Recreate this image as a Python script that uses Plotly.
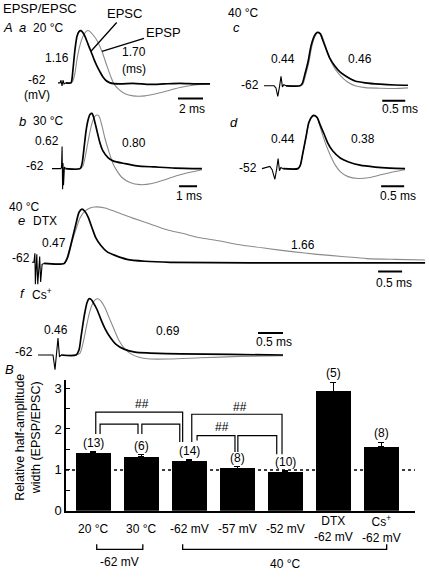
import plotly.graph_objects as go

W, H = 429, 578
FONT = "Liberation Sans, Arial, sans-serif"
BLACK = "#000000"
GRAY = "#8a8a8a"

# ---------------- Trace data (time in ms, amplitude relative to EPSC peak) ----------------
# Panel a: 20 °C, -62 mV
a_stim_t = [0, 0.16, 0.24, 0.32, 0.40, 0.48, 0.64]
a_stim_v = [0, 0, 0.05, -0.06, 0.05, -0.02, 0]
a_epsc_t = [0.64, 1.04, 1.12, 1.20, 1.36, 1.52, 1.68, 1.84, 2.00, 2.16, 2.40, 2.64, 2.88, 3.12,
            3.36, 3.60, 3.84, 4.16, 4.96, 6.0, 7.36, 8.5, 9.76, 11.0, 12.16]
a_epsc_v = [0, 0, 0.075, 0.26, 0.64, 0.89, 0.98, 1.0, 0.96, 0.89, 0.74, 0.60, 0.45, 0.32,
            0.21, 0.11, 0.045, 0, -0.02, -0.01, -0.03, -0.02, -0.01, -0.02, -0.02]
a_epsp_t = [0.64, 1.04, 1.20, 1.36, 1.52, 1.76, 2.00, 2.24, 2.40, 2.56, 2.80, 3.12, 3.52, 3.92,
            4.24, 4.48, 4.80, 5.36, 6.00, 6.96, 8.16, 9.76, 10.96, 12.16]
a_epsp_v = [0, 0, 0.04, 0.19, 0.45, 0.72, 0.89, 0.98, 1.0, 0.98, 0.92, 0.81, 0.60, 0.32,
            0.11, -0.02, -0.11, -0.21, -0.25, -0.25, -0.19, -0.09, -0.04, -0.02]

# Panel b: 30 °C, -62 mV
b_stim_t = [0, 0.47, 0.53, 0.56, 0.59, 0.61, 0.64, 0.69, 0.75]
b_stim_v = [0, 0, 0.02, 0.40, -0.375, 0.10, -0.30, 0.03, 0]
b_epsc_t = [0.75, 1.56, 1.67, 1.78, 1.89, 2.00, 2.11, 2.22, 2.33, 2.50, 2.67, 2.83, 3.11, 3.39,
            4.06, 4.72, 5.72, 6.83, 8.33]
b_epsc_v = [0, 0, 0.09, 0.375, 0.68, 0.875, 0.98, 1.0, 0.91, 0.68, 0.46, 0.32, 0.20, 0.14,
            0.09, 0.05, 0.03, 0.01, 0]
b_epsp_t = [0.75, 1.56, 1.72, 1.89, 2.06, 2.22, 2.39, 2.50, 2.61, 2.78, 2.94, 3.17, 3.39, 3.61,
            3.89, 4.33, 4.89, 5.56, 6.28, 7.11, 8.33]
b_epsp_v = [0, 0, 0.05, 0.29, 0.59, 0.82, 0.95, 0.97, 0.95, 0.77, 0.55, 0.30, 0.09, -0.04,
            -0.16, -0.25, -0.29, -0.27, -0.20, -0.11, -0.02]

# Panel c: 40 °C, -62 mV
c_stim_t = [0, 0.22, 0.26, 0.30, 0.34, 0.37, 0.40, 0.43, 0.48]
c_stim_v = [0, 0, -0.04, -0.20, 0, 0.18, -0.02, 0.02, 0]
c_epsc_t = [0.48, 0.78, 0.83, 0.89, 0.96, 1.02, 1.09, 1.15, 1.22, 1.28, 1.35, 1.43, 1.54, 1.65,
            1.80, 1.98, 2.20, 2.52, 2.85, 3.13]
c_epsc_v = [0, 0, 0.04, 0.22, 0.46, 0.74, 0.93, 1.0, 0.98, 0.85, 0.69, 0.52, 0.37, 0.26,
            0.17, 0.09, 0.055, 0.03, 0.015, 0.01]
c_epsp_t = [0.48, 0.80, 0.85, 0.91, 0.98, 1.04, 1.11, 1.17, 1.24, 1.30, 1.37, 1.45, 1.55, 1.66,
            1.80, 1.98, 2.20, 2.52, 2.85, 3.13]
c_epsp_v = [0, 0, 0.04, 0.22, 0.46, 0.74, 0.93, 1.0, 0.97, 0.84, 0.66, 0.47, 0.31, 0.19,
            0.08, 0.0, -0.035, -0.045, -0.05, -0.04]

# Panel d: 40 °C, -52 mV
d_stim_t = [0, 0.17, 0.22, 0.28, 0.32, 0.35, 0.38, 0.41, 0.46]
d_stim_v = [0, 0.04, -0.02, -0.20, 0, 0.19, -0.04, 0.02, 0]
d_epsc_t = [0.46, 0.78, 0.83, 0.89, 0.96, 1.02, 1.09, 1.13, 1.20, 1.26, 1.35, 1.43, 1.54, 1.70,
            1.87, 2.13, 2.46, 2.78, 3.11]
d_epsc_v = [0, 0, 0.055, 0.30, 0.61, 0.87, 0.98, 1.0, 0.96, 0.83, 0.65, 0.48, 0.33, 0.20,
            0.13, 0.065, 0.03, 0.01, 0]
d_epsp_t = [0.46, 0.78, 0.83, 0.89, 0.96, 1.02, 1.09, 1.13, 1.20, 1.26, 1.30, 1.39, 1.48, 1.59,
            1.70, 1.87, 2.09, 2.35, 2.61, 2.89, 3.11]
d_epsp_v = [0, 0, 0.055, 0.30, 0.61, 0.87, 0.98, 1.0, 0.95, 0.80, 0.68, 0.45, 0.26, 0.07,
            -0.055, -0.15, -0.185, -0.165, -0.11, -0.055, -0.02]

# Panel e: 40 °C, DTX
e_stim_t = [0, 0.04, 0.06, 0.07, 0.10, 0.12, 0.16, 0.18, 0.21, 0.25]
e_stim_v = [0, 0, 0.17, -0.41, 0.15, -0.41, 0.11, -0.37, -0.04, -0.02]
e_epsc_t = [0.25, 0.67, 0.73, 0.79, 0.85, 0.92, 0.98, 1.04, 1.10, 1.17, 1.25, 1.33, 1.44, 1.56,
            1.73, 1.98, 2.35, 2.88, 4.54, 6.21, 8.19]
e_epsc_v = [-0.02, -0.02, 0.07, 0.26, 0.48, 0.74, 0.94, 1.0, 0.96, 0.85, 0.65, 0.46, 0.31, 0.20,
            0.13, 0.055, 0.02, 0, -0.01, -0.01, -0.01]
e_epsp_t = [0.25, 0.67, 0.75, 0.83, 0.92, 1.00, 1.10, 1.21, 1.31, 1.52, 1.77, 2.10, 2.46, 2.81,
            3.15, 3.50, 3.85, 4.33, 4.90, 5.42, 5.94, 6.46, 6.98, 7.56, 8.19]
e_epsp_v = [-0.02, -0.02, 0.09, 0.37, 0.63, 0.83, 0.96, 1.02, 1.04, 1.02, 0.94, 0.83, 0.72, 0.61,
            0.54, 0.46, 0.41, 0.33, 0.26, 0.20, 0.15, 0.11, 0.07, 0.055, 0.045]

# Panel f: 40 °C, Cs+
f_stim_t = [0, 0.30, 0.34, 0.37, 0.40, 0.43, 0.46]
f_stim_v = [0, 0, -0.26, 0, 0.30, -0.035, 0]
f_epsc_t = [0.46, 0.76, 0.82, 0.86, 0.90, 0.94, 0.98, 1.02, 1.06, 1.12, 1.18, 1.26, 1.34, 1.44,
            1.56, 1.72, 1.94, 2.24, 2.84, 3.84, 4.90]
f_epsc_v = [0, 0, 0.09, 0.32, 0.56, 0.77, 0.93, 1.0, 0.99, 0.91, 0.81, 0.63, 0.47, 0.32,
            0.19, 0.105, 0.05, 0.035, 0.02, 0.01, 0]
f_epsp_t = [0.46, 0.76, 0.84, 0.90, 0.96, 1.02, 1.08, 1.14, 1.20, 1.26, 1.34, 1.42, 1.52, 1.62,
            1.74, 1.86, 2.00, 2.24, 2.64, 3.24, 4.04, 4.90]
f_epsp_v = [0, 0, 0.035, 0.21, 0.47, 0.72, 0.89, 0.98, 1.0, 0.96, 0.84, 0.67, 0.46, 0.26,
            0.105, 0.02, -0.035, -0.07, -0.07, -0.05, -0.025, -0.01]

# Half-amplitude widths printed beside traces (EPSC, EPSP)
halfwidth_labels = {"a": ("1.16", "1.70"), "b": ("0.62", "0.80"), "c": ("0.44", "0.46"),
                    "d": ("0.44", "0.38"), "e": ("0.47", "1.66"), "f": ("0.46", "0.69")}

# ---------------- Bar chart data ----------------
bar_labels = ["20 °C", "30 °C", "-62 mV", "-57 mV", "-52 mV", "DTX<br>-62 mV", "Cs<sup>+</sup><br>-62 mV"]
bar_values = [1.41, 1.32, 1.22, 1.04, 0.95, 2.92, 1.57]
bar_errors = [0.03, 0.05, 0.03, 0.04, 0.03, 0.22, 0.10]
bar_n = [13, 6, 14, 8, 10, 5, 8]
y_ticks = [0, 1, 2, 3]
y_minor_ticks = [0.5, 1.5, 2.5]

# ---------------- Layout geometry ----------------
def px(x):
    return x / W


def py(y):
    return 1 - y / H


# panel: (stim, epsc, epsp, x_origin_px, px_per_ms, baseline_px, px_per_unit, t_range, v_range, scalebar)
panels = {
    "a": ((a_stim_t, a_stim_v), (a_epsc_t, a_epsc_v), (a_epsp_t, a_epsp_v), 58, 12.5, 84, 53, (-0.5, 12.5), (-0.5, 1.2), (9.6, 2.0, -0.30)),
    "b": ((b_stim_t, b_stim_v), (b_epsc_t, b_epsc_v), (b_epsp_t, b_epsp_v), 52, 18, 171, 56, (-0.5, 8.6), (-0.7, 1.2), (7.06, 1.0, -0.32)),
    "c": ((c_stim_t, c_stim_v), (c_epsc_t, c_epsc_v), (c_epsp_t, c_epsp_v), 264, 46, 87, 54, (-0.2, 3.3), (-0.5, 1.2), (2.57, 0.5, -0.28)),
    "d": ((d_stim_t, d_stim_v), (d_epsc_t, d_epsc_v), (d_epsp_t, d_epsp_v), 262, 46, 171, 54, (-0.2, 3.3), (-0.5, 1.2), (2.59, 0.5, -0.33)),
    "e": ((e_stim_t, e_stim_v), (e_epsc_t, e_epsc_v), (e_epsp_t, e_epsp_v), 32, 48, 266, 54, (-0.2, 8.2), (-0.6, 1.2), (7.21, 0.5, -0.17)),
    "f": ((f_stim_t, f_stim_v), (f_epsc_t, f_epsc_v), (f_epsp_t, f_epsp_v), 38, 50, 360, 57, (-0.2, 5.0), (-0.6, 1.2), (4.4, 0.5, 0.39)),
}

fig = go.Figure()
layout_axes = {}

for i, (name, p) in enumerate(panels.items(), start=1):
    stim, epsc, epsp, xo, k, yb, hh, tr, vr, sb = p
    xa = "x" if i == 1 else f"x{i}"
    ya = "y" if i == 1 else f"y{i}"
    xkey = "xaxis" if i == 1 else f"xaxis{i}"
    ykey = "yaxis" if i == 1 else f"yaxis{i}"
    layout_axes[xkey] = dict(domain=[px(xo + k * tr[0]), px(xo + k * tr[1])], range=list(tr),
                             visible=False, anchor=ya, fixedrange=True)
    layout_axes[ykey] = dict(domain=[py(yb - hh * vr[0]), py(yb - hh * vr[1])], range=list(vr),
                             visible=False, anchor=xa, fixedrange=True)
    # EPSP (gray) first, then EPSC (black) on top
    fig.add_trace(go.Scatter(x=epsp[0], y=epsp[1], mode="lines", xaxis=xa, yaxis=ya,
                             line=dict(color=GRAY, width=1.1, shape="spline", smoothing=0.7),
                             showlegend=False, hoverinfo="skip"))
    fig.add_trace(go.Scatter(x=stim[0], y=stim[1], mode="lines", xaxis=xa, yaxis=ya,
                             line=dict(color=BLACK, width=1.1), showlegend=False, hoverinfo="skip"))
    fig.add_trace(go.Scatter(x=epsc[0], y=epsc[1], mode="lines", xaxis=xa, yaxis=ya,
                             line=dict(color=BLACK, width=1.7, shape="spline", smoothing=0.7),
                             showlegend=False, hoverinfo="skip"))
    # scale bar
    fig.add_trace(go.Scatter(x=[sb[0], sb[0] + sb[1]], y=[sb[2], sb[2]], mode="lines",
                             xaxis=xa, yaxis=ya, line=dict(color=BLACK, width=2),
                             showlegend=False, hoverinfo="skip"))

# ---------------- Bar chart ----------------
bx = list(range(len(bar_values)))
fig.add_trace(go.Bar(x=bx, y=bar_values, xaxis="x7", yaxis="y7", width=0.73,
                     marker=dict(color=BLACK, line=dict(width=0)),
                     error_y=dict(type="data", array=bar_errors, arrayminus=[0] * len(bar_errors),
                                  symmetric=False, color=BLACK, thickness=1.3, width=3),
                     showlegend=False, hoverinfo="skip"))

bar_left, bar_right, bar_zero, unit_px = 66, 415, 518, 41.5
layout_axes["xaxis7"] = dict(domain=[px(bar_left), px(bar_right)], range=[-0.57, 6.70], anchor="y7",
                             showline=True, linecolor=BLACK, linewidth=1.5, ticks="",
                             showticklabels=False, showgrid=False, zeroline=False, fixedrange=True)
layout_axes["yaxis7"] = dict(domain=[py(bar_zero), py(bar_zero - 3.2 * unit_px)], range=[0, 3.2],
                             anchor="x7", showline=True, linecolor=BLACK, linewidth=1.5,
                             tickvals=y_ticks, ticks="inside", ticklen=4,
                             tickwidth=1.3, tickcolor=BLACK, showgrid=False, zeroline=False,
                             minor=dict(tickvals=y_minor_ticks, ticks="inside", ticklen=4,
                                        tickwidth=1.3, tickcolor=BLACK, showgrid=False),
                             tickfont=dict(family=FONT, size=13, color=BLACK), fixedrange=True)

annotations = []
shapes = []


def txt(x, y, s, size=12, italic=False, xanchor="center", **kw):
    d = dict(x=px(x), y=py(y), xref="paper", yref="paper", text=s, showarrow=False,
             xanchor=xanchor, yanchor="middle",
             font=dict(family=FONT, size=size, color=BLACK, style="italic" if italic else "normal"))
    d.update(kw)
    annotations.append(d)


# Panel texts
txt(40, 9, "EPSP/EPSC", 13)
txt(8, 28, "A", 13, italic=True)
txt(22, 28, "a", 13, italic=True)
txt(48, 28, "20 °C", 12)
txt(57, 59, halfwidth_labels["a"][0])
txt(134, 53, halfwidth_labels["a"][1])
txt(134, 70, "(ms)")
txt(37, 81, "-62")
txt(37, 96, "(mV)")
txt(192, 111, "2 ms")

txt(22, 123, "b", 13, italic=True)
txt(48, 123, "30 °C", 12)
txt(47, 143, halfwidth_labels["b"][0])
txt(134, 145, halfwidth_labels["b"][1])
txt(35, 168, "-62")
txt(189, 199, "1 ms")

txt(243, 13, "40 °C")
txt(237, 28, "c", 13, italic=True)
txt(283, 60, halfwidth_labels["c"][0])
txt(360, 60, halfwidth_labels["c"][1])
txt(250, 86, "-62")
txt(400, 111, "0.5 ms")

txt(234, 124, "d", 13, italic=True)
txt(283, 141, halfwidth_labels["d"][0])
txt(363, 141, halfwidth_labels["d"][1])
txt(248, 170, "-52")
txt(398, 199, "0.5 ms")

txt(24, 210, "40 °C")
txt(21, 224, "e", 13, italic=True)
txt(45, 224, "DTX")
txt(54, 246, halfwidth_labels["e"][0])
txt(303, 248, halfwidth_labels["e"][1])
txt(21, 262, "-62")
txt(394, 287, "0.5 ms")

txt(22, 298, "f", 13, italic=True)
txt(42, 298, "Cs<sup>+</sup>")
txt(56, 335, halfwidth_labels["f"][0])
txt(168, 336, halfwidth_labels["f"][1])
txt(24, 357, "-62")
txt(274, 347, "0.5 ms")

txt(9, 375, "B", 13, italic=True)

# Callouts
annotations.append(dict(x=2.62, y=0.60, xref="x", yref="y", text="EPSC", showarrow=True,
                        ax=34, ay=-38, arrowhead=0, arrowwidth=1.3, arrowcolor=BLACK,
                        font=dict(family=FONT, size=13, color=BLACK)))
annotations.append(dict(x=3.52, y=0.60, xref="x", yref="y", text="EPSP", showarrow=True,
                        ax=61, ay=-19, arrowhead=0, arrowwidth=1.3, arrowcolor=BLACK,
                        font=dict(family=FONT, size=13, color=BLACK)))

# Bar chart: y title
txt(28, 444, "Relative half-amplitude<br>width (EPSP/EPSC)", 12.5, textangle=-90)

# n labels
for i, (v, e, n) in enumerate(zip(bar_values, bar_errors, bar_n)):
    annotations.append(dict(x=i, y=v + e, xref="x7", yref="y7", text=f"({n})", showarrow=False,
                            xanchor="center", yanchor="middle", yshift=9,
                            font=dict(family=FONT, size=12, color=BLACK)))

# category labels
for i, lab in enumerate(bar_labels):
    annotations.append(dict(x=i, y=py(536), xref="x7", yref="paper", text=lab,
                            showarrow=False, xanchor="center", yanchor="middle",
                            font=dict(family=FONT, size=12, color=BLACK)))

# dotted reference line at 1
shapes.append(dict(type="line", xref="x7 domain", yref="y7", x0=0, x1=1, y0=1, y1=1,
                   line=dict(color=BLACK, width=1.5, dash="dot")))

# significance brackets: (x_left, x_right, top, left_bottom, right_bottom)
brackets = [
    (0.05, 1.86, 2.41, 1.88, 1.68),
    (0.14, 0.93, 2.12, 1.88, 1.88),
    (1.01, 1.80, 2.12, 1.88, 1.68),
    (2.05, 3.93, 2.36, 1.68, 1.38),
    (2.16, 2.95, 1.84, 1.72, 1.44),
    (3.01, 3.82, 1.84, 1.44, 1.38),
]
for xl, xr, top, lb, rb in brackets:
    shapes.append(dict(type="path", xref="x7", yref="y7",
                       path=f"M {xl},{lb} L {xl},{top} L {xr},{top} L {xr},{rb}",
                       line=dict(color=BLACK, width=1.2)))
for xs, ys in [(1.01, 2.6), (3.06, 2.53), (2.68, 2.05)]:
    annotations.append(dict(x=xs, y=ys, xref="x7", yref="y7", text="##", showarrow=False,
                            xanchor="center", yanchor="middle",
                            font=dict(family=FONT, size=12, color=BLACK)))

# group brackets under the axis: (x_left, x_right, label, label_x, label_y_px)
groups = [(0.07, 1.03, "-62 mV", 0.55, 570), (1.86, 6.11, "40 °C", 3.99, 572)]
for xl, xr, lab, lx, ly in groups:
    shapes.append(dict(type="path", xref="x7", yref="paper",
                       path=f"M {xl},{py(552)} L {xl},{py(557)} L {xr},{py(557)} L {xr},{py(552)}",
                       line=dict(color=BLACK, width=1.3)))
    annotations.append(dict(x=lx, y=py(ly), xref="x7", yref="paper", text=lab, showarrow=False,
                            xanchor="center", yanchor="middle",
                            font=dict(family=FONT, size=12, color=BLACK)))

fig.update_layout(width=W, height=H, autosize=False, margin=dict(l=0, r=0, t=0, b=0),
                  paper_bgcolor="white", plot_bgcolor="white", showlegend=False,
                  annotations=annotations, shapes=shapes, bargap=0,
                  font=dict(family=FONT, size=12, color=BLACK), **layout_axes)

fig.write_html("out.html", config={"displayModeBar": False},
               post_script="document.body.style.margin='0';document.body.style.overflow='hidden';")
